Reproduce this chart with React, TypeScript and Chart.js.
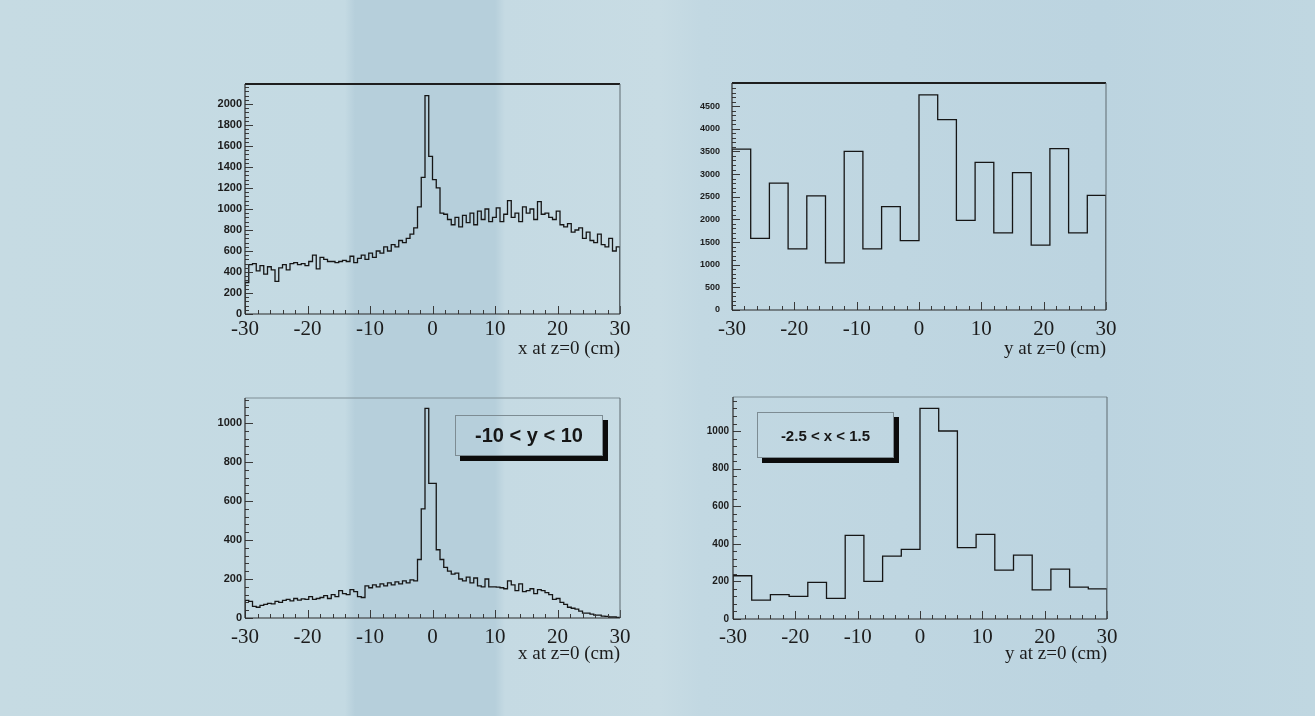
import React, { useEffect, useRef } from 'react';
import { Chart, registerables } from 'chart.js';

Chart.register(...registerables);

// ---------------- data ----------------
const X_MIN = -30;
const X_MAX = 30;
const FINE_BIN_WIDTH = 0.6; // 100 bins
const COARSE_BIN_WIDTH = 3; // 20 bins

// x at z=0, all y
const xCountsAll = [
  300, 470, 480, 410, 460, 380, 450, 420, 310, 440,
  470, 420, 480, 490, 470, 480, 460, 500, 560, 430,
  540, 520, 500, 500, 490, 500, 510, 500, 550, 490,
  530, 560, 520, 580, 540, 600, 580, 640, 600, 660,
  640, 700, 680, 720, 760, 820, 1020, 1300, 2080, 1500,
  1280, 1200, 960, 950, 900, 850, 920, 830, 940, 870,
  960, 850, 980, 900, 1000, 880, 920, 1010, 880, 950,
  1080, 920, 960, 880, 1020, 960, 1000, 900, 1070, 950,
  960, 920, 900, 980, 850, 830, 860, 780, 800, 820,
  720, 780, 700, 680, 760, 660, 640, 720, 600, 640,
];

// x at z=0, -10 < y < 10
const xCountsCut = [
  90, 85, 60, 55, 65, 70, 75, 72, 85, 80,
  90, 95, 88, 100, 92, 98, 96, 110, 95, 100,
  105, 115, 100, 120, 110, 140, 125, 120, 145, 135,
  110, 105, 165, 155, 170, 160, 175, 165, 180, 170,
  185, 175, 190, 180, 195, 190, 300, 560, 1075, 690,
  690, 350, 300, 260, 240, 225, 230, 200, 190, 210,
  180, 205, 165, 160, 200, 160, 160, 158, 155, 150,
  190, 170, 140, 175, 135, 140, 150, 125, 145, 140,
  130, 120, 95, 100, 80, 70, 55, 50, 45, 35,
  25, 25, 20, 15, 15, 10, 8, 5, 5, 3,
];

// y at z=0, all x
const yCountsAll = [
  3550, 1580, 2800, 1350, 2520, 1040, 3500, 1350, 2280, 1530,
  4750, 4200, 1980, 3260, 1700, 3030, 1430, 3560, 1700, 2530,
];

// y at z=0, -2.5 < x < 1.5
const yCountsCut = [
  230, 100, 130, 120, 195, 110, 445, 200, 335, 370,
  1120, 1000, 380, 450, 260, 340, 155, 265, 170, 160,
];

// tick labels
const xTickLabels = [-30, -20, -10, 0, 10, 20, 30];
const yTicksXAll = [0, 200, 400, 600, 800, 1000, 1200, 1400, 1600, 1800, 2000];
const yTicksYAll = [0, 500, 1000, 1500, 2000, 2500, 3000, 3500, 4000, 4500];
const yTicksXCut = [0, 200, 400, 600, 800, 1000];
const yTicksYCut = [0, 200, 400, 600, 800, 1000];

const xTitle = 'x at z=0 (cm)';
const yTitle = 'y at z=0 (cm)';
const cutLabelX = '-10 < y < 10';
const cutLabelY = '-2.5 < x < 1.5';

// ---------------- helpers ----------------
function histPoints(counts: number[], width: number) {
  const pts: { x: number; y: number }[] = [{ x: X_MIN, y: 0 }];
  counts.forEach((c, i) => pts.push({ x: X_MIN + i * width, y: c }));
  pts.push({ x: X_MAX, y: counts[counts.length - 1] });
  pts.push({ x: X_MAX, y: 0 });
  return pts;
}

const rootFrame = {
  id: 'rootFrame',
  afterDatasetsDraw(chart: any, _args: any, opts: any) {
    const { ctx, chartArea: a, scales } = chart;
    const xs = scales.x;
    const ys = scales.y;
    ctx.save();
    ctx.strokeStyle = opts.tickColor || '#333';
    ctx.lineWidth = 1;
    // x ticks (inward)
    const nx = Math.round((xs.max - xs.min) / opts.xMinor);
    for (let k = 0; k <= nx; k++) {
      const v = xs.min + k * opts.xMinor;
      const px = Math.round(xs.getPixelForValue(v)) + 0.5;
      const r = v / opts.xMajor;
      const major = Math.abs(r - Math.round(r)) < 1e-6;
      const len = major ? 8 : 4;
      ctx.beginPath();
      ctx.moveTo(px, a.bottom);
      ctx.lineTo(px, a.bottom - len);
      ctx.stroke();
    }
    // y ticks (inward)
    const ny = Math.floor((ys.max - ys.min) / opts.yMinor + 1e-6);
    for (let k = 0; k <= ny; k++) {
      const v = ys.min + k * opts.yMinor;
      const py = Math.round(ys.getPixelForValue(v)) + 0.5;
      const r = v / opts.yMajor;
      const major = Math.abs(r - Math.round(r)) < 1e-6;
      const len = major ? 8 : 4;
      ctx.beginPath();
      ctx.moveTo(a.left, py);
      ctx.lineTo(a.left + len, py);
      ctx.stroke();
    }
    // frame
    const line = (x1: number, y1: number, x2: number, y2: number, c: string, w: number) => {
      ctx.strokeStyle = c;
      ctx.lineWidth = w;
      ctx.beginPath();
      ctx.moveTo(x1, y1);
      ctx.lineTo(x2, y2);
      ctx.stroke();
    };
    line(a.left, a.top, a.right, a.top, opts.topColor, opts.topWidth);
    line(a.right, a.top, a.right, a.bottom, opts.rightColor, 1);
    line(a.left, a.bottom, a.right, a.bottom, opts.axisColor, 1.2);
    line(a.left, a.top, a.left, a.bottom, opts.axisColor, 1.2);
    ctx.restore();
  },
};

type PanelProps = {
  left: number;
  top: number;
  width: number;
  height: number;
  padTop: number;
  padRight: number;
  yWidth: number;
  xHeight: number;
  counts: number[];
  binWidth: number;
  yMax: number;
  yTicks: number[];
  yMajor: number;
  yMinor: number;
  yFont: number;
  yGap: number;
  xPad: number;
  title: string;
  topColor: string;
  topWidth: number;
  titlePadBottom: number;
};

function Panel(p: PanelProps) {
  const ref = useRef<HTMLCanvasElement | null>(null);
  useEffect(() => {
    if (!ref.current) return;
    const chart = new Chart(ref.current, {
      type: 'line',
      data: {
        datasets: [
          {
            data: histPoints(p.counts, p.binWidth),
            stepped: 'before',
            borderColor: '#161616',
            borderWidth: 1.3,
            pointRadius: 0,
            fill: false,
            borderJoinStyle: 'miter',
          } as any,
        ],
      },
      options: {
        responsive: false,
        animation: false,
        events: [],
        layout: { padding: { top: p.padTop, right: p.padRight, left: 0, bottom: 0 } },
        plugins: {
          legend: { display: false },
          tooltip: { enabled: false },
          rootFrame: {
            xMajor: 10,
            xMinor: 2,
            yMajor: p.yMajor,
            yMinor: p.yMinor,
            tickColor: '#3a3a3a',
            axisColor: '#2a2a2a',
            rightColor: '#5e6a70',
            topColor: p.topColor,
            topWidth: p.topWidth,
          },
        } as any,
        scales: {
          x: {
            type: 'linear',
            min: X_MIN,
            max: X_MAX,
            grid: { display: false, drawTicks: false },
            border: { display: false },
            afterBuildTicks: (s: any) => {
              s.ticks = xTickLabels.map((v) => ({ value: v }));
            },
            ticks: {
              autoSkip: false,
              maxRotation: 0,
              padding: p.xPad,
              color: '#1c1c1c',
              font: { family: 'Liberation Serif', size: 21 },
              callback: (v: any) => String(v),
            },
            title: {
              display: true,
              text: p.title,
              align: 'end',
              color: '#1c1c1c',
              font: { family: 'Liberation Serif', size: 19 },
              padding: { top: 0, bottom: p.titlePadBottom },
            },
            afterFit: (s: any) => {
              s.height = p.xHeight;
            },
          },
          y: {
            type: 'linear',
            min: 0,
            max: p.yMax,
            grid: { display: false, drawTicks: true, tickLength: p.yGap },
            border: { display: false },
            afterBuildTicks: (s: any) => {
              s.ticks = p.yTicks.map((v) => ({ value: v }));
            },
            ticks: {
              autoSkip: false,
              padding: 2,
              color: '#1c1c1c',
              font: { family: 'Liberation Sans', size: p.yFont, weight: 'bold' },
              callback: (v: any) => String(v),
            },
            afterFit: (s: any) => {
              s.width = p.yWidth;
            },
          },
        },
      } as any,
      plugins: [rootFrame as any],
    });
    return () => chart.destroy();
  }, []);
  return (
    <canvas
      ref={ref}
      width={p.width}
      height={p.height}
      style={{ position: 'absolute', left: p.left, top: p.top, width: p.width, height: p.height }}
    />
  );
}

function CutBox(props: { left: number; top: number; width: number; height: number; text: string; size: number; shadow: number }) {
  return (
    <div
      style={{
        position: 'absolute',
        left: props.left,
        top: props.top,
        width: props.width,
        height: props.height,
        boxSizing: 'border-box',
        border: '1px solid #7d8c93',
        boxShadow: `${props.shadow}px ${props.shadow}px 0 0 #0c0c0c`,
        display: 'flex',
        alignItems: 'center',
        justifyContent: 'center',
        fontFamily: 'Liberation Sans, Arial, sans-serif',
        fontWeight: 'bold',
        fontSize: props.size,
        color: '#161616',
        whiteSpace: 'pre',
      }}
    >
      {props.text}
    </div>
  );
}

export default function App() {
  return (
    <div
      style={{
        position: 'absolute',
        left: 0,
        top: 0,
        width: 1315,
        height: 716,
        overflow: 'hidden',
        background:
          'linear-gradient(90deg, #c6dbe3 0px, #c4dae3 345px, #b6cfdb 355px, #b6cfdb 495px, #c5dae3 505px, #c8dce4 660px, #c2d8e2 700px, #bcd4e0 1100px, #c0d7e1 1315px)',
      }}
    >
      <Panel
        left={180}
        top={70}
        width={460}
        height={300}
        padTop={14}
        padRight={20}
        yWidth={65}
        xHeight={56}
        counts={xCountsAll}
        binWidth={FINE_BIN_WIDTH}
        yMax={2190}
        yTicks={yTicksXAll}
        yMajor={200}
        yMinor={40}
        yFont={11}
        yGap={1}
        xPad={3}
        title={xTitle}
        topColor="#1e1e1e"
        topWidth={2}
        titlePadBottom={10}
      />
      <Panel
        left={670}
        top={70}
        width={460}
        height={300}
        padTop={13}
        padRight={24}
        yWidth={62}
        xHeight={60}
        counts={yCountsAll}
        binWidth={COARSE_BIN_WIDTH}
        yMax={5010}
        yTicks={yTicksYAll}
        yMajor={500}
        yMinor={100}
        yFont={9}
        yGap={10}
        xPad={7}
        title={yTitle}
        topColor="#1e1e1e"
        topWidth={2}
        titlePadBottom={10}
      />
      <Panel
        left={180}
        top={385}
        width={460}
        height={290}
        padTop={13}
        padRight={20}
        yWidth={65}
        xHeight={57}
        counts={xCountsCut}
        binWidth={FINE_BIN_WIDTH}
        yMax={1128}
        yTicks={yTicksXCut}
        yMajor={200}
        yMinor={40}
        yFont={11}
        yGap={1}
        xPad={7}
        title={xTitle}
        topColor="#7f8e95"
        topWidth={1}
        titlePadBottom={10}
      />
      <Panel
        left={670}
        top={385}
        width={460}
        height={290}
        padTop={12}
        padRight={23}
        yWidth={63}
        xHeight={56}
        counts={yCountsCut}
        binWidth={COARSE_BIN_WIDTH}
        yMax={1181}
        yTicks={yTicksYCut}
        yMajor={200}
        yMinor={40}
        yFont={10}
        yGap={2}
        xPad={6}
        title={yTitle}
        topColor="#7f8e95"
        topWidth={1}
        titlePadBottom={10}
      />
      <CutBox left={455} top={415} width={148} height={41} text={cutLabelX} size={20} shadow={5} />
      <CutBox left={757} top={412} width={137} height={46} text={cutLabelY} size={15} shadow={5} />
    </div>
  );
}
